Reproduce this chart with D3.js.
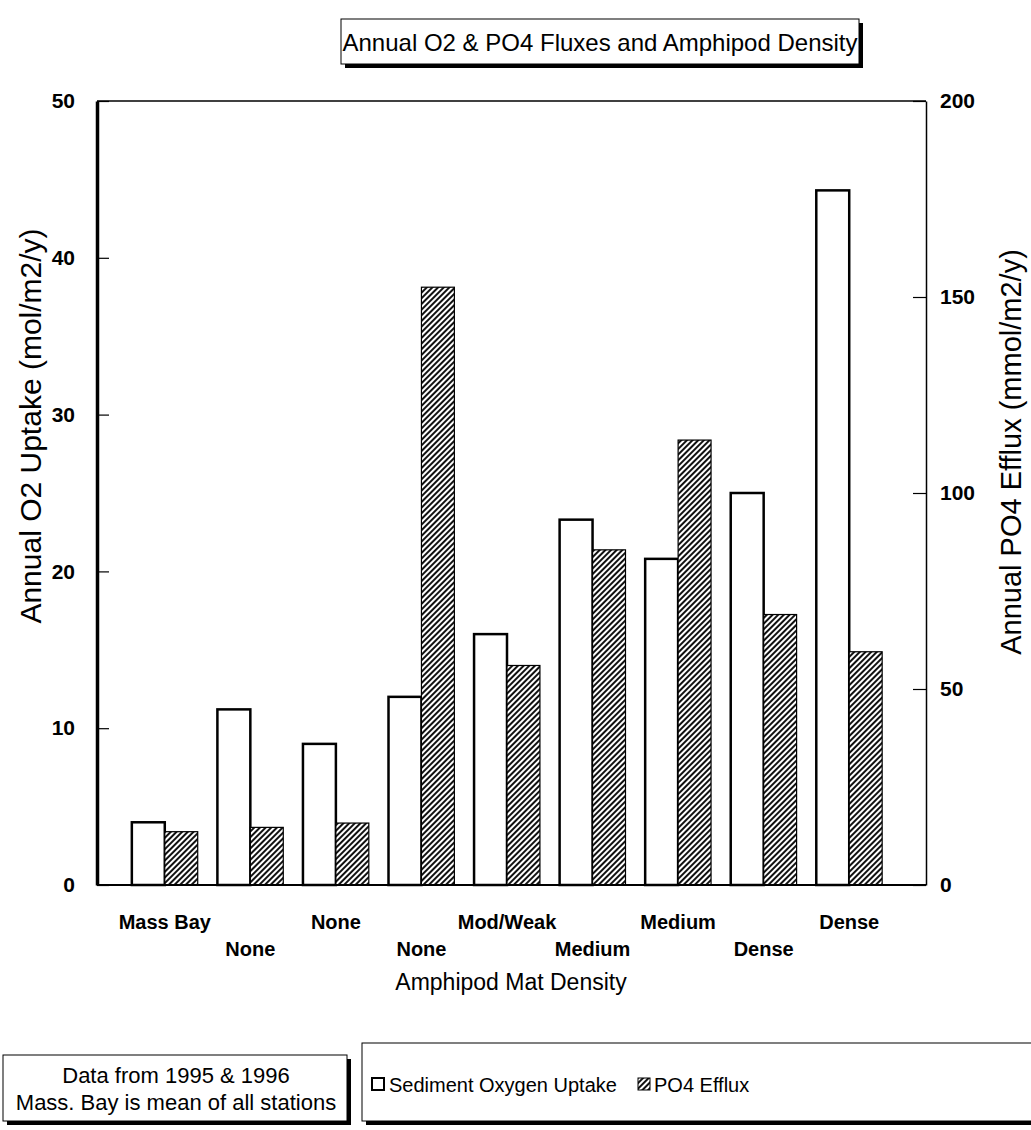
<!DOCTYPE html>
<html>
<head>
<meta charset="utf-8">
<script src="https://cdn.jsdelivr.net/npm/d3@7"></script>
<style>
  html, body { margin: 0; padding: 0; background: #fff; }
  svg { display: block; font-family: "Liberation Sans", Arial, sans-serif; }
</style>
</head>
<body>
<svg id="chart" width="1031" height="1130"></svg>
<script>
const categories = ["Mass Bay", "None", "None", "None", "Mod/Weak", "Medium", "Medium", "Dense", "Dense"];
const o2Uptake = [4.0, 11.2, 9.0, 12.0, 16.0, 23.3, 20.8, 25.0, 44.3];
const po4Efflux = [13.6, 14.7, 15.8, 152.5, 56.0, 85.5, 113.5, 69.0, 59.5];
const leftTicks = [0, 10, 20, 30, 40, 50];
const rightTicks = [0, 50, 100, 150, 200];
const seriesNames = ["Sediment Oxygen Uptake", "PO4 Efflux"];

const FONT = "'Liberation Sans', Arial, sans-serif";
const svg = d3.select("#chart");
const plot = { left: 97, right: 926, top: 101, bottom: 885 };

const defs = svg.append("defs");
const pat = defs.append("pattern")
  .attr("id", "hatch")
  .attr("patternUnits", "userSpaceOnUse")
  .attr("width", 4).attr("height", 4)
  .attr("patternTransform", "rotate(45)");
pat.append("rect").attr("width", 4).attr("height", 4).attr("fill", "#fff");
pat.append("rect").attr("width", 2).attr("height", 4).attr("fill", "#111");

const x = d3.scaleBand().domain(d3.range(categories.length))
  .range([122, 892]).paddingInner(0.23).paddingOuter(0.115);
const xSub = d3.scaleBand().domain([0, 1]).range([0, x.bandwidth()]);
const yL = d3.scaleLinear().domain([0, 50]).range([plot.bottom, plot.top]);
const yR = d3.scaleLinear().domain([0, 200]).range([plot.bottom, plot.top]);

// top border
svg.append("line")
  .attr("x1", plot.left).attr("x2", plot.right)
  .attr("y1", plot.top).attr("y2", plot.top)
  .attr("stroke", "#000").attr("stroke-width", 1.5);

// bars
const g = svg.append("g");
g.selectAll(".o2").data(o2Uptake).join("rect")
  .attr("x", (d, i) => x(i) + xSub(0))
  .attr("width", xSub.bandwidth())
  .attr("y", d => yL(d))
  .attr("height", d => yL(0) - yL(d))
  .attr("fill", "#fff").attr("stroke", "#000").attr("stroke-width", 2.5);
g.selectAll(".po4").data(po4Efflux).join("rect")
  .attr("x", (d, i) => x(i) + xSub(1))
  .attr("width", xSub.bandwidth())
  .attr("y", d => yR(d))
  .attr("height", d => yR(0) - yR(d))
  .attr("fill", "url(#hatch)").attr("stroke", "#000").attr("stroke-width", 1.2);

// bottom axis line
svg.append("line")
  .attr("x1", plot.left).attr("x2", plot.right)
  .attr("y1", plot.bottom).attr("y2", plot.bottom)
  .attr("stroke", "#000").attr("stroke-width", 2);

// left axis
const axL = svg.append("g").attr("transform", `translate(${plot.left},0)`)
  .call(d3.axisLeft(yL).tickValues(leftTicks).tickSize(-12).tickSizeOuter(0).tickPadding(22));
axL.select(".domain").attr("stroke-width", 3.5);
axL.selectAll(".tick line").attr("stroke-width", 1.2);
axL.selectAll("text").attr("font-size", 21).attr("font-weight", "bold").attr("font-family", FONT);

// right axis
const axR = svg.append("g").attr("transform", `translate(${plot.right},0)`)
  .call(d3.axisRight(yR).tickValues(rightTicks).tickSize(-13).tickSizeOuter(0).tickPadding(14));
axR.select(".domain").attr("stroke-width", 1.5);
axR.selectAll(".tick line").attr("stroke-width", 1.2);
axR.selectAll("text").attr("font-size", 21).attr("font-weight", "bold").attr("font-family", FONT);

// x category labels (staggered)
svg.append("g").selectAll("text").data(categories).join("text")
  .attr("x", (d, i) => x(i) + x.bandwidth() / 2)
  .attr("y", (d, i) => i % 2 === 0 ? 929 : 956)
  .attr("text-anchor", "middle")
  .attr("font-size", 20).attr("font-weight", "bold")
  .text(d => d);

// axis titles
svg.append("text").attr("x", 511).attr("y", 990)
  .attr("text-anchor", "middle").attr("font-size", 23)
  .text("Amphipod Mat Density");
svg.append("text")
  .attr("transform", "translate(41,426) rotate(-90)")
  .attr("text-anchor", "middle").attr("font-size", 30)
  .text("Annual O2 Uptake (mol/m2/y)");
svg.append("text")
  .attr("transform", "translate(1021,452) rotate(-90)")
  .attr("text-anchor", "middle").attr("font-size", 29)
  .text("Annual PO4 Efflux (mmol/m2/y)");

// boxes with drop shadow
function shadowBox(x0, y0, w, h) {
  svg.append("rect").attr("x", x0 + 4).attr("y", y0 + 4).attr("width", w).attr("height", h).attr("fill", "#000");
  svg.append("rect").attr("x", x0).attr("y", y0).attr("width", w).attr("height", h)
    .attr("fill", "#fff").attr("stroke", "#000").attr("stroke-width", 1);
}
shadowBox(341, 19, 518, 45);
svg.append("text").attr("x", 600).attr("y", 51)
  .attr("text-anchor", "middle").attr("font-size", 24)
  .text("Annual O2 & PO4 Fluxes and Amphipod Density");

// notes box
shadowBox(3, 1055, 344, 66);
svg.append("text").attr("x", 176).attr("y", 1083).attr("text-anchor", "middle")
  .attr("font-size", 22).text("Data from 1995 & 1996");
svg.append("text").attr("x", 176).attr("y", 1110).attr("text-anchor", "middle")
  .attr("font-size", 22).text("Mass. Bay is mean of all stations");

// legend box
shadowBox(362, 1043, 700, 78);
const leg = svg.append("g");
leg.append("rect").attr("x", 372).attr("y", 1078).attr("width", 12).attr("height", 12)
  .attr("fill", "#fff").attr("stroke", "#000").attr("stroke-width", 2);
leg.append("text").attr("x", 389).attr("y", 1092).attr("font-size", 20).text(seriesNames[0]);
leg.append("rect").attr("x", 638).attr("y", 1078).attr("width", 12).attr("height", 12)
  .attr("fill", "url(#hatch)").attr("stroke", "#000").attr("stroke-width", 1);
leg.append("text").attr("x", 654).attr("y", 1092).attr("font-size", 20).text(seriesNames[1]);
</script>
</body>
</html>
